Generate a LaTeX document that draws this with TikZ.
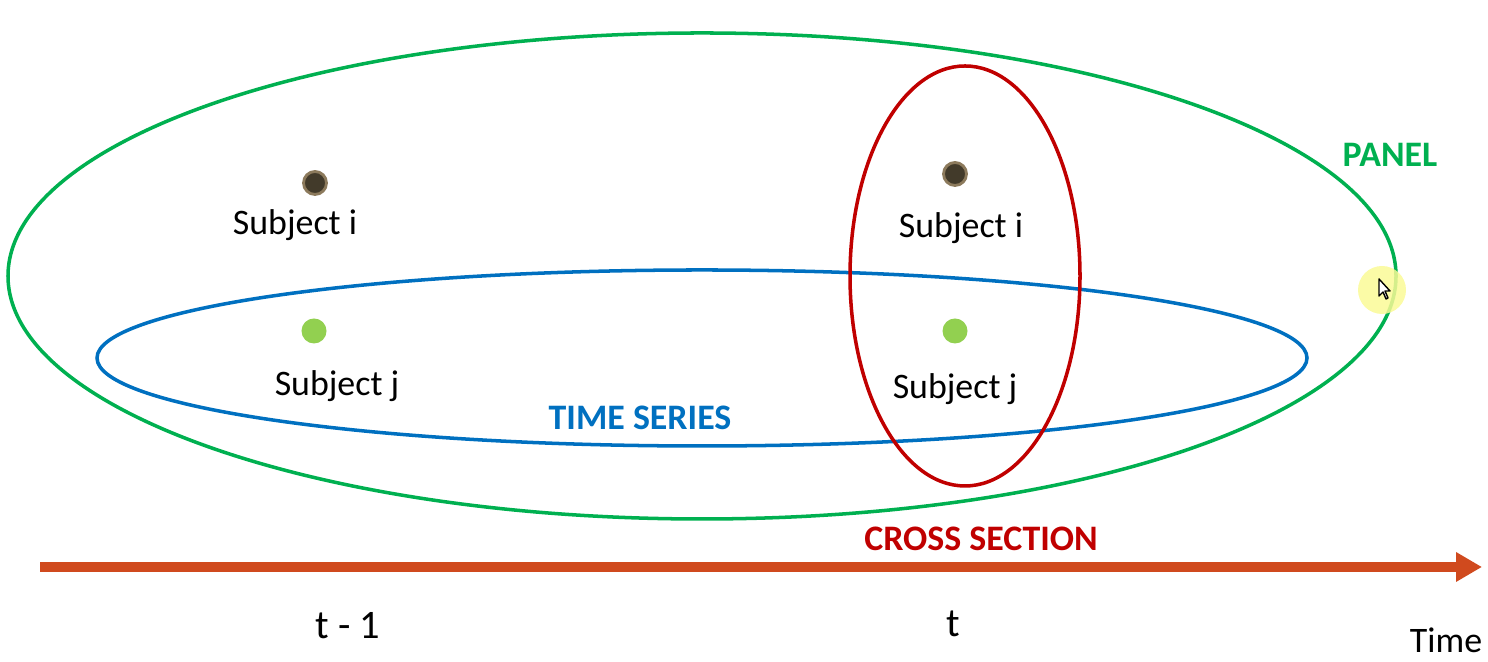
\documentclass[tikz,border=0pt]{standalone}
\usepackage{fontspec}
\setmainfont{Carlito}
\usetikzlibrary{arrows.meta,positioning}
\definecolor{panelgreen}{RGB}{0,176,80}
\definecolor{seriesblue}{RGB}{0,112,192}
\definecolor{crossred}{RGB}{192,0,0}
\definecolor{timeorange}{RGB}{208,74,30}
\definecolor{dotdark}{RGB}{66,58,42}
\definecolor{dotrim}{RGB}{140,122,92}
\definecolor{dotgreen}{RGB}{146,208,80}
\definecolor{hilite}{RGB}{250,250,150}

\begin{document}
\begin{tikzpicture}[x=0.01cm, y=0.01cm,
  subj/.style={font=\fontsize{10.2}{12}\selectfont},
  tag/.style={font=\fontsize{10.2}{12}\selectfont\bfseries},
  tick/.style={font=\fontsize{11.5}{14}\selectfont},
  darkdot/.style={circle, draw=dotrim, fill=dotdark, line width=0.8pt, minimum size=0.23cm, inner sep=0pt},
  greendot/.style={circle, fill=dotgreen, minimum size=0.25cm, inner sep=0pt},
  ring/.style={line width=1pt},
  arr/.style={-{Triangle[length=0.26cm, width=0.28cm]}, line width=0.1cm, timeorange}
]
\useasboundingbox (0,0) rectangle (1488,662);
% Ellipses
\draw[ring, panelgreen] (702,386) ellipse [x radius=694, y radius=243];
\draw[ring, seriesblue] (702,304) ellipse [x radius=605, y radius=88];
\draw[ring, crossred] (965,386) ellipse [x radius=115, y radius=210];
% Subjects at t-1
\node[darkdot] (di1) at (315,479) {};
\node[subj] (si1) at (295,437) {Subject i};
\node[greendot] (dj1) at (314,331) {};
\node[subj] (sj1) at (337,276) {Subject j};
% Subjects at t
\node[darkdot] (di2) at (955,488) {};
\node[subj] (si2) at (961,434) {Subject i};
\node[greendot] (dj2) at (955,331) {};
\node[subj] (sj2) at (955,273) {Subject j};
% Labels
\node[tag, text=panelgreen] (panel) at (1390,507) {PANEL};
\node[tag, text=seriesblue] (series) at (640,244) {TIME SERIES};
\node[tag, text=crossred] (cross) at (981,123) {CROSS SECTION};
% Time axis
\coordinate (tstart) at (40,95);
\coordinate (tend) at (1482,95);
\draw[arr] (tstart) -- (tend);
\node[tick] (tprev) at (348,36) {t - 1};
\node[tick] (tnow) at (953,38) {t};
\node[subj] (time) at (1446,22) {Time};
% Pointer
\fill[hilite, opacity=0.85] (1382,372) circle (24);
\draw[fill=white, line width=0.4pt, line join=round] (1379,383) -- ++(0,-17) -- ++(4,4) -- ++(3,-7) -- ++(2,1) -- ++(-3,7) -- ++(5,0) -- cycle;
\end{tikzpicture}
\end{document}
